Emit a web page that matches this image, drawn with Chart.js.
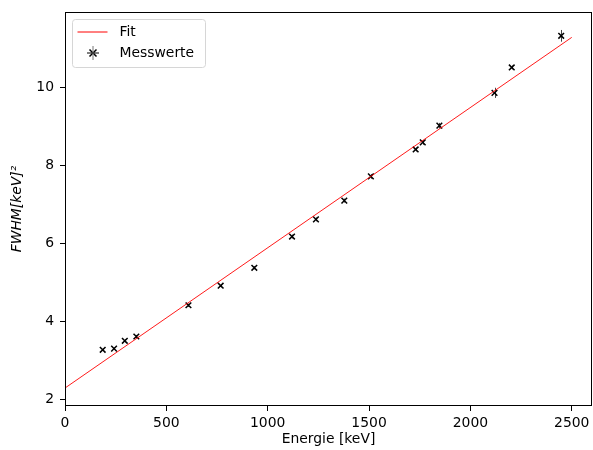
<!DOCTYPE html>
<html>
<head>
<meta charset="utf-8">
<script src="https://cdn.jsdelivr.net/npm/chart.js@4"></script>
<style>
html,body{margin:0;padding:0;background:#fff;}
canvas{display:block;}
</style>
</head>
<body>
<canvas id="c" width="593" height="450"></canvas>
<script>
// Data
const energies = [186, 242, 295, 352, 609, 768, 934, 1120, 1238, 1378, 1509, 1730, 1765, 1847, 2119, 2204, 2448];
const fwhm2 =    [3.28, 3.31, 3.51, 3.62, 4.42, 4.92, 5.38, 6.18, 6.62, 7.10, 7.72, 8.41, 8.59, 9.02, 9.86, 10.51, 11.32];
const fwhm2Err = [0.03, 0.03, 0.04, 0.04, 0.04, 0.04, 0.04, 0.05, 0.05, 0.05, 0.06, 0.05, 0.06, 0.07, 0.13, 0.05, 0.15];
const fitIntercept = [2.30];
const fitSlope = [0.003592];
const fitRange = [0, 2500];
const xTicks = [0, 500, 1000, 1500, 2000, 2500];
const yTicks = [2, 4, 6, 8, 10];

const FONT = "'DejaVu Sans', sans-serif";
const FS = 13.9;

const points = energies.map((e, i) => ({x: e, y: fwhm2[i]}));
const fitPoints = fitRange.map(x => ({x: x, y: fitIntercept[0] + fitSlope[0] * x}));

function noPad(s) { s.paddingLeft = 0; s.paddingRight = 0; s.paddingTop = 0; s.paddingBottom = 0; }

const frameAndErrors = {
  id: 'frameAndErrors',
  beforeDatasetsDraw(chart) {
    const ctx = chart.ctx;
    const xs = chart.scales.x, ys = chart.scales.y;
    ctx.save();
    ctx.strokeStyle = '#444';
    ctx.lineWidth = 1;
    energies.forEach((e, i) => {
      const px = Math.round(xs.getPixelForValue(e)) + 0.5;
      const y1 = ys.getPixelForValue(fwhm2[i] - fwhm2Err[i]);
      const y2 = ys.getPixelForValue(fwhm2[i] + fwhm2Err[i]);
      ctx.beginPath();
      ctx.moveTo(px, y1);
      ctx.lineTo(px, y2);
      ctx.stroke();
    });
    ctx.restore();
  },
  afterDraw(chart) {
    const ctx = chart.ctx;
    const a = chart.chartArea;
    ctx.save();
    ctx.strokeStyle = '#000';
    ctx.lineWidth = 1;
    ctx.strokeRect(Math.round(a.left) + 0.5, Math.round(a.top) + 0.5,
                   Math.round(a.right - a.left) - 1, Math.round(a.bottom - a.top) - 1);
    // legend
    const lx = Math.round(a.left) + 7.5, ly = Math.round(a.top) + 7.5, lw = 133, lh = 48, r = 3;
    ctx.fillStyle = 'rgba(255,255,255,0.8)';
    ctx.strokeStyle = '#d6d6d6';
    ctx.beginPath();
    ctx.moveTo(lx + r, ly);
    ctx.lineTo(lx + lw - r, ly);
    ctx.quadraticCurveTo(lx + lw, ly, lx + lw, ly + r);
    ctx.lineTo(lx + lw, ly + lh - r);
    ctx.quadraticCurveTo(lx + lw, ly + lh, lx + lw - r, ly + lh);
    ctx.lineTo(lx + r, ly + lh);
    ctx.quadraticCurveTo(lx, ly + lh, lx, ly + lh - r);
    ctx.lineTo(lx, ly + r);
    ctx.quadraticCurveTo(lx, ly, lx + r, ly);
    ctx.closePath();
    ctx.fill();
    ctx.stroke();
    // Fit entry
    const row1 = ly + 12.5, row2 = ly + 33.5;
    ctx.strokeStyle = '#ff0000';
    ctx.lineWidth = 1;
    ctx.beginPath();
    ctx.moveTo(lx + 5, row1);
    ctx.lineTo(lx + 35, row1);
    ctx.stroke();
    // Messwerte entry
    const mx = lx + 20.5;
    ctx.strokeStyle = '#000';
    ctx.lineWidth = 1.5;
    ctx.beginPath();
    ctx.moveTo(mx - 3.5, row2 - 3.5); ctx.lineTo(mx + 3.5, row2 + 3.5);
    ctx.moveTo(mx + 3.5, row2 - 3.5); ctx.lineTo(mx - 3.5, row2 + 3.5);
    ctx.stroke();
    ctx.lineWidth = 1;
    ctx.beginPath();
    ctx.moveTo(mx - 6, row2); ctx.lineTo(mx + 6, row2);
    ctx.stroke();
    ctx.strokeStyle = '#777';
    ctx.beginPath();
    ctx.moveTo(mx, row2 - 7); ctx.lineTo(mx, row2 + 7);
    ctx.stroke();
    ctx.fillStyle = '#000';
    ctx.font = FS + 'px ' + FONT;
    ctx.textBaseline = 'middle';
    ctx.textAlign = 'left';
    ctx.fillText('Fit', lx + 47, row1);
    ctx.fillText('Messwerte', lx + 47, row2);
    ctx.restore();
  }
};

new Chart(document.getElementById('c'), {
  type: 'scatter',
  data: {
    datasets: [
      {
        type: 'line',
        label: 'Fit',
        data: fitPoints,
        borderColor: '#ff0000',
        borderWidth: 0.9,
        pointRadius: 0,
        fill: false,
        tension: 0
      },
      {
        label: 'Messwerte',
        data: points,
        pointStyle: 'crossRot',
        pointRadius: 4,
        pointBorderWidth: 1.5,
        borderColor: '#000',
        backgroundColor: '#000'
      }
    ]
  },
  options: {
    responsive: false,
    animation: false,
    devicePixelRatio: 1,
    layout: {autoPadding: false, padding: {top: 12, right: 1, left: 0, bottom: 0}},
    plugins: {legend: {display: false}, tooltip: {enabled: false}},
    scales: {
      x: {
        type: 'linear',
        min: 0,
        max: 2600,
        afterBuildTicks(s) { s.ticks = xTicks.map(v => ({value: v})); },
        afterFit(s) { s.height = 44; noPad(s); },
        border: {display: false},
        grid: {display: true, drawOnChartArea: false, drawTicks: true, tickLength: 5, color: '#000', tickWidth: 1},
        ticks: {color: '#000', font: {family: FONT, size: FS}, padding: 4, maxRotation: 0,
                callback: v => String(v)},
        title: {display: true, text: 'Energie [keV]', color: '#000', font: {family: FONT, size: FS}, padding: {top: 0, bottom: 2}}
      },
      y: {
        type: 'linear',
        min: 1.84,
        max: 11.93,
        afterBuildTicks(s) { s.ticks = yTicks.map(v => ({value: v})); },
        afterFit(s) { s.width = 65; noPad(s); },
        border: {display: false},
        grid: {display: true, drawOnChartArea: false, drawTicks: true, tickLength: 5, color: '#000', tickWidth: 1},
        ticks: {color: '#000', font: {family: FONT, size: FS}, padding: 6,
                callback: v => String(v)},
        title: {display: true, text: 'FWHM[keV]²', color: '#000', font: {family: FONT, size: FS, style: 'italic'}, padding: {top: 9, bottom: 0}}
      }
    }
  },
  plugins: [frameAndErrors]
});
</script>
</body>
</html>
